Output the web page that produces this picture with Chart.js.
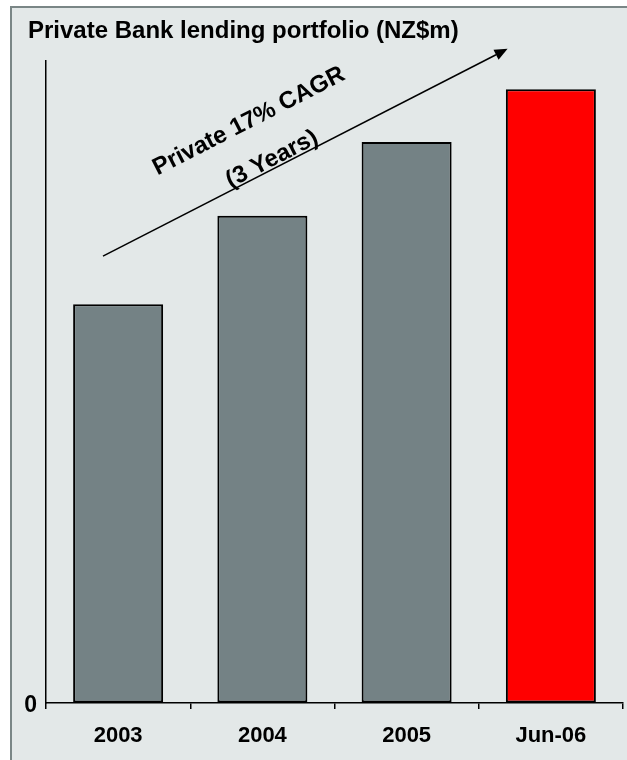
<!DOCTYPE html>
<html><head><meta charset="utf-8">
<script src="https://cdn.jsdelivr.net/npm/chart.js@4.4.1/dist/chart.umd.min.js"></script>
<style>html,body{margin:0;padding:0;background:#fff;}canvas{display:block}</style>
</head><body>
<canvas id="c" width="627" height="760"></canvas>
<script>
const categories = ['2003', '2004', '2005', 'Jun-06'];
const lending = [621, 759, 874, 956];
const barColors = ['#748285', '#748285', '#748285', '#FF0000'];
const yTickLabels = ['0'];
const titleText = 'Private Bank lending portfolio (NZ$m)';
const arrowLabels = ['Private 17% CAGR', '(3 Years)'];
// arrow/labels positions in data space (category index, value)
const arrowFrom = [-0.105, 696];
const arrowTo = [2.7, 1019];
const labelAt = [[0.907, 906], [1.067, 847]];

const FONT = '"Liberation Sans", Arial, sans-serif';

const panelPlugin = {
  id: 'panel',
  beforeDraw(chart) {
    const ctx = chart.ctx;
    ctx.save();
    ctx.fillStyle = '#ffffff';
    ctx.fillRect(0, 0, chart.width, chart.height);
    ctx.fillStyle = '#E3E8E8';
    ctx.fillRect(11, 7, chart.width - 11, chart.height - 7);
    ctx.strokeStyle = '#7A8686';
    ctx.lineWidth = 2;
    ctx.beginPath();
    ctx.moveTo(11, chart.height);
    ctx.lineTo(11, 7);
    ctx.lineTo(chart.width, 7);
    ctx.stroke();
    ctx.fillStyle = '#000';
    ctx.font = 'bold 24px ' + FONT;
    ctx.textBaseline = 'alphabetic';
    ctx.textAlign = 'left';
    ctx.fillText(titleText, 28, 38);
    ctx.restore();
  }
};

const arrowPlugin = {
  id: 'arrow',
  afterDatasetsDraw(chart) {
    const ctx = chart.ctx;
    const xs = chart.scales.x, ys = chart.scales.y;
    const x1 = xs.getPixelForValue(arrowFrom[0]), y1 = ys.getPixelForValue(arrowFrom[1]);
    const x2 = xs.getPixelForValue(arrowTo[0]), y2 = ys.getPixelForValue(arrowTo[1]);
    const ang = Math.atan2(y2 - y1, x2 - x1);
    ctx.save();
    ctx.strokeStyle = '#000';
    ctx.fillStyle = '#000';
    ctx.lineWidth = 1.5;
    const hl = 13, hw = 5.5;
    ctx.beginPath();
    ctx.moveTo(x1, y1);
    ctx.lineTo(x2 - hl * Math.cos(ang), y2 - hl * Math.sin(ang));
    ctx.stroke();
    ctx.beginPath();
    ctx.moveTo(x2, y2);
    ctx.lineTo(x2 - hl * Math.cos(ang) + hw * Math.sin(ang), y2 - hl * Math.sin(ang) - hw * Math.cos(ang));
    ctx.lineTo(x2 - hl * Math.cos(ang) - hw * Math.sin(ang), y2 - hl * Math.sin(ang) + hw * Math.cos(ang));
    ctx.closePath();
    ctx.fill();
    ctx.font = 'bold 24px ' + FONT;
    ctx.textAlign = 'center';
    ctx.textBaseline = 'middle';
    arrowLabels.forEach((t, i) => {
      const px = xs.getPixelForValue(labelAt[i][0]);
      const py = ys.getPixelForValue(labelAt[i][1]);
      ctx.save();
      ctx.translate(px, py);
      ctx.rotate(ang);
      ctx.fillText(t, 0, 0);
      ctx.restore();
    });
    ctx.restore();
  }
};

new Chart(document.getElementById('c'), {
  type: 'bar',
  data: {
    labels: categories,
    datasets: [{
      data: lending,
      backgroundColor: barColors,
      borderColor: '#000',
      borderWidth: 2,
      borderSkipped: false,
      barPercentage: 0.624,
      categoryPercentage: 1
    }]
  },
  plugins: [panelPlugin, arrowPlugin],
  options: {
    responsive: false,
    animation: false,
    devicePixelRatio: 1,
    layout: { padding: { left: 11, right: 4, top: 61, bottom: 0 } },
    plugins: { legend: { display: false }, title: { display: false }, tooltip: { enabled: false } },
    scales: {
      x: {
        grid: { display: true, drawOnChartArea: false, drawTicks: true, tickLength: 6, color: '#000', lineWidth: 1.5, offset: true },
        border: { display: true, color: '#000', width: 1.5 },
        ticks: { color: '#000', font: { family: FONT, weight: 'bold', size: 22 }, padding: 14, maxRotation: 0 },
        afterFit(s) { s.height = 57; }
      },
      y: {
        min: 0, max: 1000,
        grid: { display: true, drawOnChartArea: false, drawTicks: false },
        border: { display: true, color: '#000', width: 1.5 },
        ticks: { color: '#000', font: { family: FONT, weight: 'bold', size: 23 }, padding: 9, labelOffset: 3 },
        afterBuildTicks(s) { s.ticks = yTickLabels.map(l => ({ value: Number(l) })); },
        afterFit(s) { s.width = 35; }
      }
    }
  }
});
</script>
</body></html>
